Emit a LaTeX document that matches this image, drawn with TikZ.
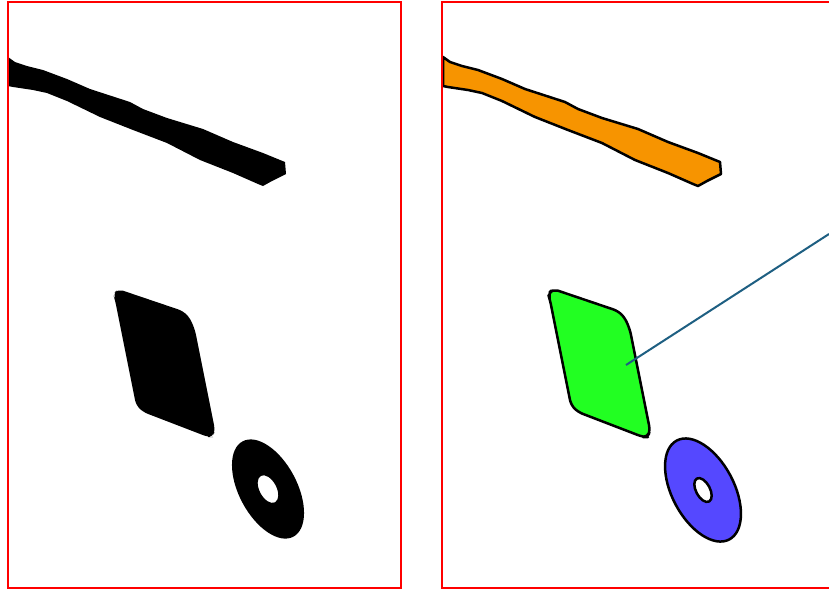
\documentclass[tikz,border=0pt]{standalone}
\usetikzlibrary{calc}
\definecolor{frameRed}{RGB}{255,0,0}
\definecolor{barOrange}{RGB}{247,148,0}
\definecolor{segGreen}{RGB}{34,255,34}
\definecolor{ringBlue}{RGB}{85,72,255}
\definecolor{leaderBlue}{RGB}{30,95,130}
\newcommand\mybarpath{(8,57) -- (15,62) -- (27,66) -- (43,70) -- (67,79) -- (90,89) -- (130,102) -- (143,109) -- (167,118) -- (203,129) -- (233,142) -- (263,153) -- (285,162) -- (286,174) -- (272,181) -- (263,186) -- (258,184) -- (233,173) -- (200,160) -- (167,143) -- (133,130) -- (100,117) -- (67,101) -- (47,93) -- (33,90) -- (13,87) -- (8,86) -- cycle}
\newcommand\myquadpath{[rounded corners=5pt] (113,294) -- (118,289) -- (183,311) -- (190,318) -- (195,330) -- (215,430) -- (213,437) -- (208,437) -- (143,412) -- (136,405) -- (115,300) -- cycle}
\tikzset{
  panelframe/.style={draw=frameRed, line width=1.5pt},
  maskfill/.style={fill=black},
  segout/.style={draw=black, line width=2.5pt, line join=round},
  leader/.style={draw=leaderBlue, line width=2pt}
}
\begin{document}
\begin{tikzpicture}[x=1pt,y=-1pt]
\useasboundingbox (0,0) rectangle (829,590);
\clip (0,0) rectangle (829,590);
\fill[white] (0,0) rectangle (829,590);
% left panel (mask)
\fill[maskfill] \mybarpath;
\fill[maskfill] \myquadpath;
\fill[maskfill, even odd rule, shift={(268,489)}, rotate=-62]
  (0,0) circle[x radius=54pt, y radius=29pt]
  (0.05,0.05) circle[x radius=15pt, y radius=8.5pt];
\draw[panelframe] (8,2) rectangle (401,588);
% right panel (coloured segments)
\begin{scope}[xshift=435pt]
\path[segout, fill=barOrange] \mybarpath;
\path[segout, fill=segGreen] \myquadpath;
\end{scope}
\path[segout, fill=ringBlue, even odd rule, shift={(703,490)}, rotate=-62]
  (0,0) circle[x radius=56pt, y radius=31pt]
  (0,0) circle[x radius=13pt, y radius=7pt];
\coordinate (segc) at (626,365);
\coordinate (offpic) at (829,234);
\draw[leader] (segc) -- (offpic);
\draw[panelframe] (835,2) -- (442,2) -- (442,588) -- (835,588);
\end{tikzpicture}
\end{document}
